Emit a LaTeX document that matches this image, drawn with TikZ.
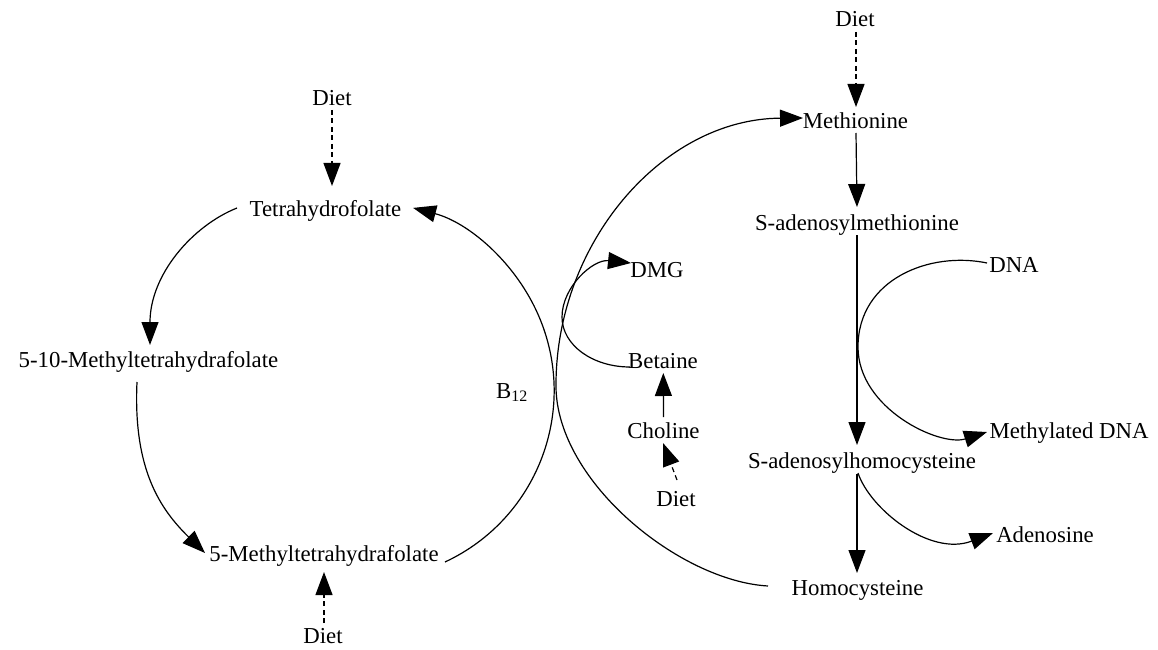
\documentclass[tikz,border=0pt]{standalone}
\usepackage{fontspec}
\setmainfont{Liberation Serif}
\usetikzlibrary{arrows.meta}
\begin{document}
\begin{tikzpicture}[x=1pt,y=1pt,
  lbl/.style={anchor=base,inner sep=0pt,font=\fontsize{22.8}{26}\selectfont},
  arr/.style={line width=1.2pt,-{Triangle[length=23pt,width=17pt]}},
  darr/.style={arr,dash pattern=on 5pt off 3.5pt}]
\useasboundingbox (0,0) rectangle (1158,649);
% nodes
\node[lbl] (dietA) at (332,543) {Diet};
\node[lbl] (thf) at (325.5,432) {Tetrahydrofolate};
\node[lbl] (mthf10) at (148.5,282) {5-10-Methyltetrahydrafolate};
\node[lbl] (mthf5) at (324,88) {5-Methyltetrahydrafolate};
\node[lbl] (dietB) at (323,6) {Diet};
\node[lbl] (b12) at (512,251) {B\textsubscript{12}};
\node[lbl] (dmg) at (657,372) {DMG};
\node[lbl] (bet) at (663,281) {Betaine};
\node[lbl] (cho) at (663.5,211) {Choline};
\node[lbl] (dietC) at (676,143) {Diet};
\node[lbl] (dietD) at (855,622) {Diet};
\node[lbl] (met) at (855.5,520) {Methionine};
\node[lbl] (sam) at (857,419) {S-adenosylmethionine};
\node[lbl] (dna) at (1014,377) {DNA};
\node[lbl] (mdna) at (1069,211) {Methylated DNA};
\node[lbl] (sah) at (862,181) {S-adenosylhomocysteine};
\node[lbl] (ado) at (1045,107) {Adenosine};
\node[lbl] (hcy) at (857.5,54) {Homocysteine};
% folate cycle
\draw[darr] ([shift={(0,-4)}]dietA.base) -- ([shift={(6.5,31)}]thf.base);
\draw[arr] ([shift={(-88.5,9)}]thf.base) .. controls (192,423) and (150,374) .. ([shift={(1.5,22)}]mthf10.base);
\draw[arr] ([shift={(-11.5,-15)}]mthf10.base) .. controls (133,180) and (160,140) .. ([shift={(-119,8)}]mthf5.base);
\draw[arr] ([shift={(121,-1)}]mthf5.base) arc[start angle=-65,end angle=75.3,radius=189];
\draw[darr] ([shift={(1,20)}]dietB.base) -- ([shift={(0,-11)}]mthf5.base);
% methionine cycle
\draw[arr] ([shift={(-89.5,9)}]hcy.base) .. controls (680,68) and (557,167) .. (556,262)
  .. controls (555,405) and (662,530) .. ([shift={(-52.5,11)}]met.base);
\draw[arr] ([shift={(-33,1)}]bet.base) .. controls (592.5,282) and (562,304) .. (562,332)
  .. controls (562,362) and (593,390) .. ([shift={(-26,14)}]dmg.base);
\draw[arr] ([shift={(0,21)}]cho.base) -- ([shift={(0.3,-5)}]bet.base);
\draw[darr] ([shift={(1,26)}]dietC.base) -- ([shift={(-0.5,-5)}]cho.base);
\draw[darr] ([shift={(1,-5)}]dietD.base) -- ([shift={(0.5,22)}]met.base);
\draw[arr] ([shift={(0.5,-4)}]met.base) -- ([shift={(0,23)}]sam.base);
\draw[arr] ([shift={(0,-5)}]sam.base) -- ([shift={(-5,23)}]sah.base);
\draw[arr] ([shift={(-27,9)}]dna.base) .. controls (930,398) and (858,370) .. (858,302)
  .. controls (858,240) and (940,202) .. ([shift={(-82,6)}]mdna.base);
\draw[arr] ([shift={(-4,-5)}]sah.base) .. controls (870,140) and (930,92) .. ([shift={(-52,9)}]ado.base);
\draw[arr] ([shift={(-5,-6)}]sah.base) -- ([shift={(-0.5,22)}]hcy.base);
\end{tikzpicture}
\end{document}
